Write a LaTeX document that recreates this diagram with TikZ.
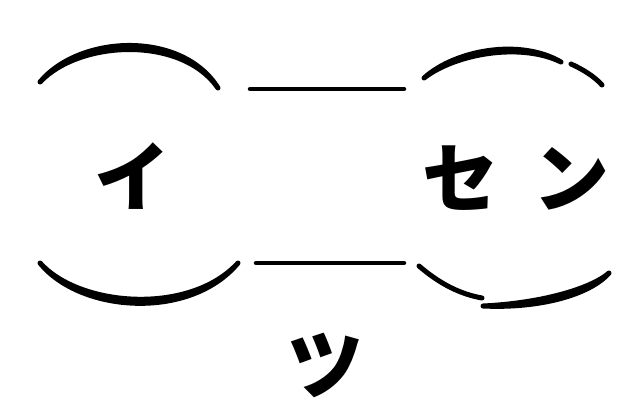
\documentclass[tikz,border=0pt]{standalone}
\usepackage{fontspec}
\newfontfamily\jp{Noto Sans CJK JP}
\begin{document}
\begin{tikzpicture}[x=1pt,y=-1pt,
  arcline/.style={line width=5pt,line cap=round,line join=round,black},
  crescent/.style={line width=5pt,line cap=round,line join=round,draw=black,fill=black},
  joinline/.style={line width=4.5pt,line cap=round,black},
  kana/.style={inner sep=0pt,font=\jp\bfseries\fontsize{76}{76}\selectfont}]
\useasboundingbox[fill=white] (0,0) rectangle (628,402);
% left circle
\path[crescent] (40,82) .. controls (80,34.3) and (182,30.3) .. (218,88)
   .. controls (182,35.7) and (80,39.7) .. (40,82) -- cycle;
\path[crescent] (40,263) .. controls (80,312.7) and (190,320.7) .. (238,263)
   .. controls (190,315.3) and (80,307.3) .. (40,263) -- cycle;
% right circle
\path[crescent] (424,78) .. controls (455,50) and (520,38) .. (561,62)
   .. controls (520,42) and (455,54) .. (424,78) -- cycle;
\draw[arcline] (571,64) .. controls (582,69) and (594,76) .. (602,85);
\draw[arcline] (419,266) .. controls (440,284) and (460,294) .. (482,298);
\path[crescent] (483,306) .. controls (540,308.7) and (590,294.7) .. (609,273)
   .. controls (590,289.3) and (540,303.3) .. (483,306) -- cycle;
% joining lines
\coordinate (tl) at (250,89); \coordinate (tr) at (404,89);
\coordinate (bl) at (256,263); \coordinate (br) at (404,263);
\draw[joinline] (tl) -- (tr);
\draw[joinline] (bl) -- (br);
% labels
\node[kana] (i) at (132,176) {イ};
\node[kana] (sen) at (516,178) {セ\hspace{36pt}ン};
\node[kana] (tsu) at (325,365) {ツ};
\end{tikzpicture}
\end{document}
